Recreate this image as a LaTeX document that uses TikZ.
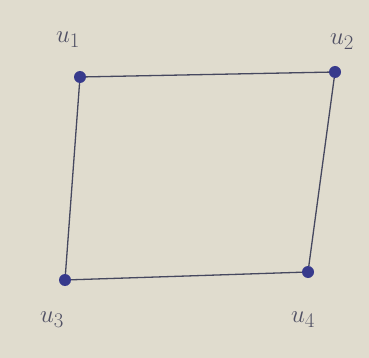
\documentclass[tikz,border=0pt]{standalone}
\definecolor{paper}{RGB}{224,220,206}
\definecolor{ink}{RGB}{70,72,95}
\definecolor{dotc}{RGB}{55,58,140}
\definecolor{lab}{RGB}{80,80,100}
\begin{document}
\begin{tikzpicture}[x=1pt,y=-1pt,
  vert/.style={circle,fill=dotc,inner sep=0pt,minimum size=12pt},
  edge/.style={draw=ink,line width=1.3pt},
  lbl/.style={text=lab,font=\fontsize{30}{30}\selectfont}]
\fill[paper] (0,0) rectangle (369,358);
\useasboundingbox (0,0) rectangle (369,358);
\node[vert] (u1) at (80,77) {};
\node[vert] (u2) at (335,72) {};
\node[vert] (u3) at (65,280) {};
\node[vert] (u4) at (308,272) {};
\draw[edge] (u1) -- (u2) -- (u4) -- (u3) -- (u1);
\node[lbl] (l1) at (68,40) {$u_1$};
\node[lbl] (l2) at (342,42) {$u_2$};
\node[lbl] (l3) at (52,320) {$u_3$};
\node[lbl] (l4) at (303,320) {$u_4$};
\end{tikzpicture}
\end{document}
